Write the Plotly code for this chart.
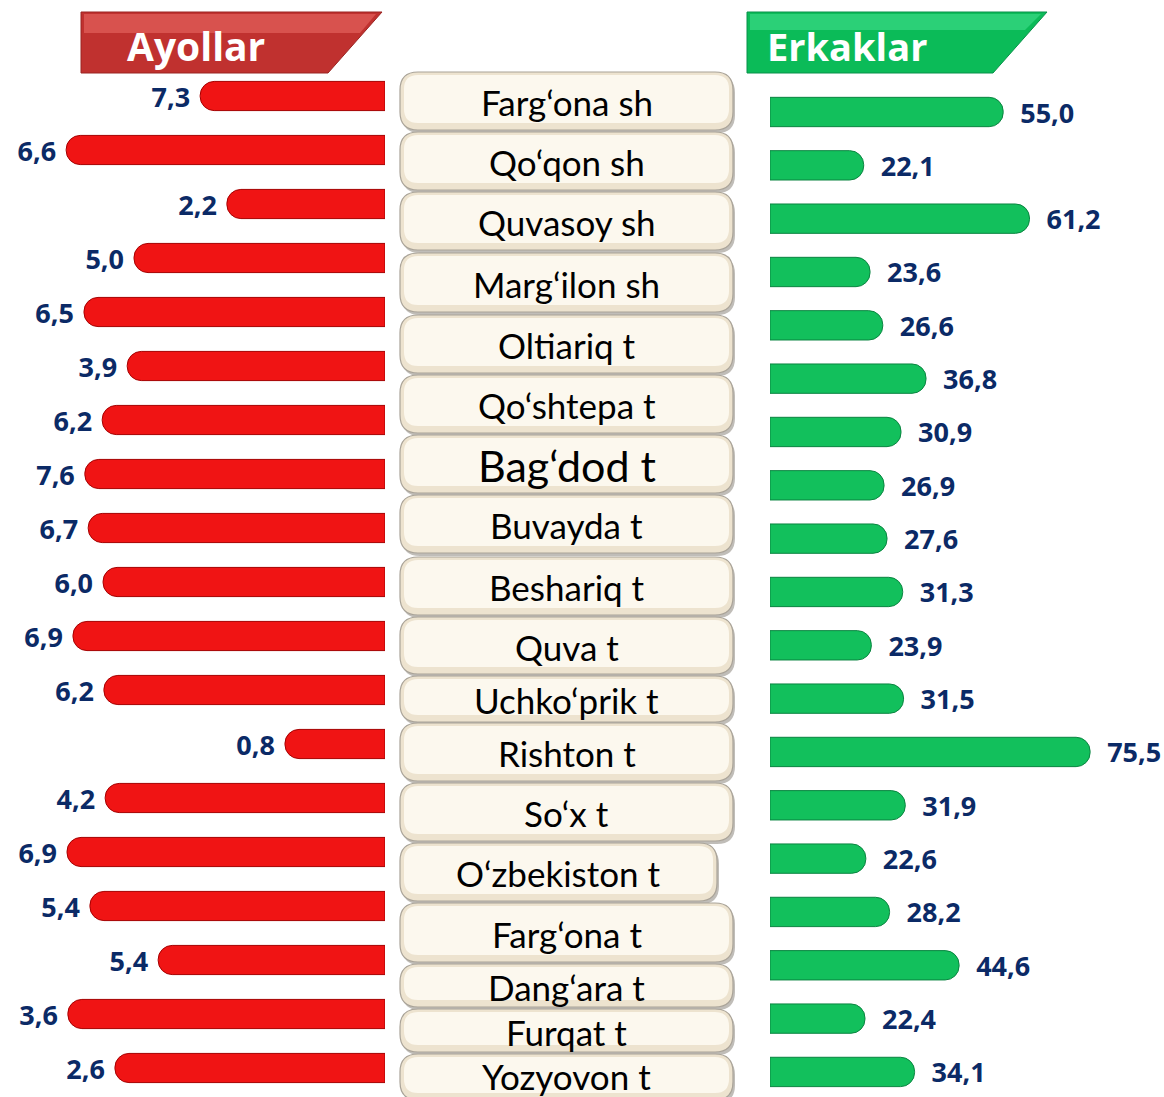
import plotly.graph_objects as go

# ---------------- data ----------------
regions = ["Farg‘ona sh", "Qo‘qon sh", "Quvasoy sh", "Marg‘ilon sh", "Oltiariq t",
           "Qo‘shtepa t", "Bag‘dod t", "Buvayda t", "Beshariq t", "Quva t",
           "Uchko‘prik t", "Rishton t", "So‘x t", "O‘zbekiston t", "Farg‘ona t",
           "Dang‘ara t", "Furqat t", "Yozyovon t"]

# value labels printed next to the red (women) bars
ayollar_labels = [7.3, 6.6, 2.2, 5.0, 6.5, 3.9, 6.2, 7.6, 6.7, 6.0, 6.9, 6.2,
                  0.8, 4.2, 6.9, 5.4, 5.4, 3.6, 2.6]
# bar lengths of the red bars as drawn in the picture (same scale as men)
ayollar_bar = [43.6, 75.2, 37.3, 59.2, 71.0, 60.8, 66.7, 70.8, 70.0, 66.5, 73.6,
               66.3, 23.6, 66.0, 75.0, 69.6, 53.5, 74.8, 63.7]
# men values
erkaklar = [55.0, 22.1, 61.2, 23.6, 26.6, 36.8, 30.9, 26.9, 27.6, 31.3, 23.9,
            31.5, 75.5, 31.9, 22.6, 28.2, 44.6, 22.4, 34.1]

title_left = "Ayollar"
title_right = "Erkaklar"

# ---------------- layout constants ----------------
W, H = 1164, 1097
FONT = "Lato"
BOLD = "Open Sans"
NAVY = "#0B2A66"
NB = "\u00a0"


def fmt(v):
    return f"{v:.1f}".replace(".", ",")


def px_x(x):
    return x / W


def px_y(y):
    return 1 - y / H


rows = list(range(len(erkaklar)))

fig = go.Figure()

fig.add_trace(go.Bar(
    y=rows, x=ayollar_bar, orientation="h",
    xaxis="x", yaxis="y",
    width=0.54,
    marker=dict(color="#F01414", line=dict(color="#A50000", width=1),
                cornerradius=14),
    text=[fmt(v) + NB for v in ayollar_labels], textposition="outside",
    textfont=dict(family=BOLD, size=27, color=NAVY, weight=700),
    cliponaxis=False, constraintext="none", hoverinfo="skip",
))

fig.add_trace(go.Bar(
    y=rows, x=erkaklar, orientation="h",
    xaxis="x2", yaxis="y2",
    width=0.55,
    marker=dict(color="#12C05C", line=dict(color="#0A8440", width=1),
                cornerradius=14),
    text=[NB * 2 + fmt(v) for v in erkaklar], textposition="outside",
    textfont=dict(family=BOLD, size=27, color=NAVY, weight=700),
    cliponaxis=False, constraintext="none", hoverinfo="skip",
))

scale = 4.24  # px per unit
left_end, right_start = 385, 770
hidden = dict(showgrid=False, zeroline=False, showticklabels=False,
              showline=False, ticks="")

fig.update_layout(
    width=W, height=H,
    margin=dict(l=0, r=0, t=0, b=0),
    paper_bgcolor="white", plot_bgcolor="rgba(0,0,0,0)",
    showlegend=False, barmode="overlay",
    xaxis=dict(domain=[0, px_x(left_end)], range=[left_end / scale, 0], **hidden),
    xaxis2=dict(domain=[px_x(right_start), 1], range=[0, (W - right_start) / scale],
                anchor="y2", **hidden),
    yaxis=dict(domain=[0, 1], range=[(H - 96) / 54, -96 / 54], **hidden),
    yaxis2=dict(domain=[0, 1], range=[(H - 112) / 53.33, -112 / 53.33],
                anchor="x2", overlaying="y", **hidden),
)

shapes = []
annotations = []


def rrect(x0, y0, x1, y1, r):
    X0, X1 = px_x(x0), px_x(x1)
    Y0, Y1 = px_y(y0), px_y(y1)
    rx, ry = r / W, r / H
    return (f"M {X0+rx},{Y0} L {X1-rx},{Y0} Q {X1},{Y0} {X1},{Y0-ry} "
            f"L {X1},{Y1+ry} Q {X1},{Y1} {X1-rx},{Y1} L {X0+rx},{Y1} "
            f"Q {X0},{Y1} {X0},{Y1+ry} L {X0},{Y0-ry} Q {X0},{Y0} {X0+rx},{Y0} Z")


def poly(pts):
    return "M " + " L ".join(f"{px_x(x)},{px_y(y)}" for x, y in pts) + " Z"


# center label boxes (top, bottom in px)
box_edges = [(72, 130), (132, 190), (192, 250), (253, 312), (315, 373), (375, 433),
             (435, 493), (495, 553), (557, 615), (617, 674), (676, 722), (723, 781),
             (783, 841), (843, 901), (903, 962), (964, 1007), (1009, 1052), (1054, 1100)]
box_right = {13: 717}
for i, name in enumerate(regions):
    t, b = box_edges[i]
    x0, x1 = 400, box_right.get(i, 733)
    r = min(18, (b - t) / 2)
    shapes.append(dict(type="path", path=rrect(x0 + 2, t + 3, x1 + 2, b + 3, r),
                       xref="paper", yref="paper", fillcolor="#8C877E",
                       opacity=0.55, line=dict(width=0), layer="below"))
    shapes.append(dict(type="path", path=rrect(x0, t, x1, b, r),
                       xref="paper", yref="paper", fillcolor="#EDE3CF",
                       line=dict(color="#A9A398", width=1.2), layer="below"))
    shapes.append(dict(type="path", path=rrect(x0 + 4, t + 3, x1 - 4, b - 7, r - 4),
                       xref="paper", yref="paper", fillcolor="#FCF8EE",
                       line=dict(width=0), layer="below"))
    cy = (t + b) / 2 + 1 if i < len(regions) - 1 else 1076
    annotations.append(dict(
        x=px_x((x0 + x1) / 2), y=px_y(cy), xref="paper", yref="paper",
        text=name, showarrow=False, xanchor="center", yanchor="middle",
        font=dict(family=FONT, size=43 if i == 6 else 35, color="black")))

# header banners
shapes.append(dict(type="path", path=poly([(81, 12), (382, 12), (328, 73), (81, 73)]),
                   xref="paper", yref="paper", fillcolor="#C0312F",
                   line=dict(color="#9A2422", width=1)))
shapes.append(dict(type="path", path=poly([(84, 14), (376, 14), (360, 33), (84, 33)]),
                   xref="paper", yref="paper", fillcolor="#D8524E",
                   line=dict(width=0)))
shapes.append(dict(type="path", path=poly([(747, 12), (1047, 12), (993, 73), (747, 73)]),
                   xref="paper", yref="paper", fillcolor="#0BBB58",
                   line=dict(color="#08914A", width=1)))
shapes.append(dict(type="path", path=poly([(750, 14), (1041, 14), (1025, 30), (750, 30)]),
                   xref="paper", yref="paper", fillcolor="#2BD077",
                   line=dict(width=0)))
annotations.append(dict(x=px_x(196), y=px_y(46), xref="paper", yref="paper",
                        text=title_left, showarrow=False, xanchor="center",
                        yanchor="middle",
                        font=dict(family=BOLD, size=39, color="white", weight=700)))
annotations.append(dict(x=px_x(765), y=px_y(46), xref="paper", yref="paper",
                        text=title_right, showarrow=False, xanchor="left",
                        yanchor="middle",
                        font=dict(family=BOLD, size=38, color="white", weight=700)))

fig.update_layout(shapes=shapes, annotations=annotations)

fig.write_html("out.html", config={"displayModeBar": False},
               post_script="document.body.style.margin='0';")
